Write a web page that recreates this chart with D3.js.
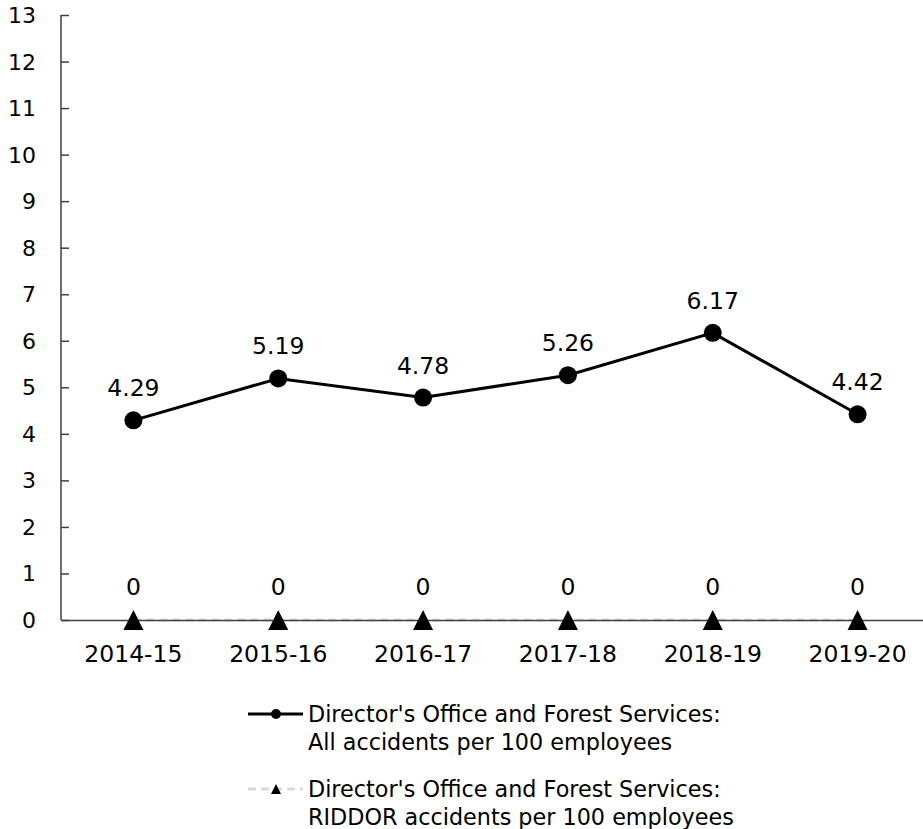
<!DOCTYPE html>
<html><head><meta charset="utf-8">
<script src="https://cdn.jsdelivr.net/npm/d3@7"></script>
<style>body{margin:0;background:#fff}svg{display:block}text{font-family:Verdana,"DejaVu Sans",sans-serif;fill:#000}</style>
</head><body><svg id="c" width="923" height="829"></svg>
<script>
const categories = ["2014-15","2015-16","2016-17","2017-18","2018-19","2019-20"];
const allAccidents = [4.29,5.19,4.78,5.26,6.17,4.42];
const riddorAccidents = [0,0,0,0,0,0];
const yTicks = d3.range(0,14);
const legendLabels = [["Director's Office and Forest Services:","All accidents per 100 employees"],["Director's Office and Forest Services:","RIDDOR accidents per 100 employees"]];

const svg = d3.select("#c");
const x = d3.scaleBand().domain(categories).range([61,930]);
const y = d3.scaleLinear().domain([0,13]).range([620,15]);
const cx = d => x(d)+x.bandwidth()/2;
const triPath = s => `M0,${-s}L${s},${s}L${-s},${s}Z`;

// RIDDOR series line (light dashed)
svg.append("path").datum(riddorAccidents)
  .attr("d", d3.line().x((d,i)=>cx(categories[i])).y(d=>y(d)))
  .attr("fill","none").attr("stroke","#d9d9d9").attr("stroke-width",3).attr("stroke-dasharray","8,5");

// Y axis
const ya = svg.append("g").attr("transform","translate(61,0)")
  .call(d3.axisRight(y).tickValues(yTicks).tickSize(8).tickFormat(""));
ya.select(".domain").attr("stroke","#404040").attr("stroke-width",1.5).attr("d","M0,15V620");
ya.selectAll(".tick line").attr("stroke","#404040").attr("stroke-width",1.5);
svg.append("g").selectAll("text").data(yTicks).join("text")
  .attr("x",36).attr("y",d=>y(d)+8).attr("text-anchor","end")
  .attr("font-size",22).text(d=>d);

// X axis
const xa = svg.append("g").attr("transform","translate(0,620)")
  .call(d3.axisBottom(x).tickSize(0).tickFormat(""));
xa.select(".domain").attr("stroke","#404040").attr("stroke-width",1.5);
svg.append("g").selectAll("text").data(categories).join("text")
  .attr("x",d=>cx(d)).attr("y",662).attr("text-anchor","middle")
  .attr("font-size",23.5).text(d=>d);

// All accidents line
svg.append("path").datum(allAccidents)
  .attr("d", d3.line().x((d,i)=>cx(categories[i])).y(d=>y(d)))
  .attr("fill","none").attr("stroke","#000").attr("stroke-width",3);
svg.append("g").selectAll("circle").data(allAccidents).join("circle")
  .attr("cx",(d,i)=>cx(categories[i])).attr("cy",d=>y(d)).attr("r",9).attr("fill","#000");
svg.append("g").selectAll("text").data(allAccidents).join("text")
  .attr("x",(d,i)=>cx(categories[i])).attr("y",d=>y(d)-24).attr("text-anchor","middle")
  .attr("font-size",23.5).text(d=>d.toFixed(2));

// RIDDOR markers
svg.append("g").selectAll("path").data(riddorAccidents).join("path")
  .attr("d",triPath(10)).attr("transform",(d,i)=>`translate(${cx(categories[i])},${y(d)})`).attr("fill","#000");
svg.append("g").selectAll("text").data(riddorAccidents).join("text")
  .attr("x",(d,i)=>cx(categories[i])).attr("y",d=>y(d)-25).attr("text-anchor","middle")
  .attr("font-size",23.5).text(d=>d);

// Legend
const lg = svg.append("g");
lg.append("line").attr("x1",248).attr("x2",303).attr("y1",714).attr("y2",714).attr("stroke","#000").attr("stroke-width",3);
lg.append("circle").attr("cx",276).attr("cy",714).attr("r",5).attr("fill","#000");
lg.append("line").attr("x1",248).attr("x2",303).attr("y1",789).attr("y2",789).attr("stroke","#d9d9d9").attr("stroke-width",3).attr("stroke-dasharray","8,5");
lg.append("path").attr("d",triPath(5)).attr("transform","translate(276,789)").attr("fill","#000");
legendLabels.forEach((lines,k)=>{
  lines.forEach((t,j)=>{
    lg.append("text").attr("x",308).attr("y",[722,797][k]+j*28).attr("font-size",22.3).text(t);
  });
});
</script></body></html>
